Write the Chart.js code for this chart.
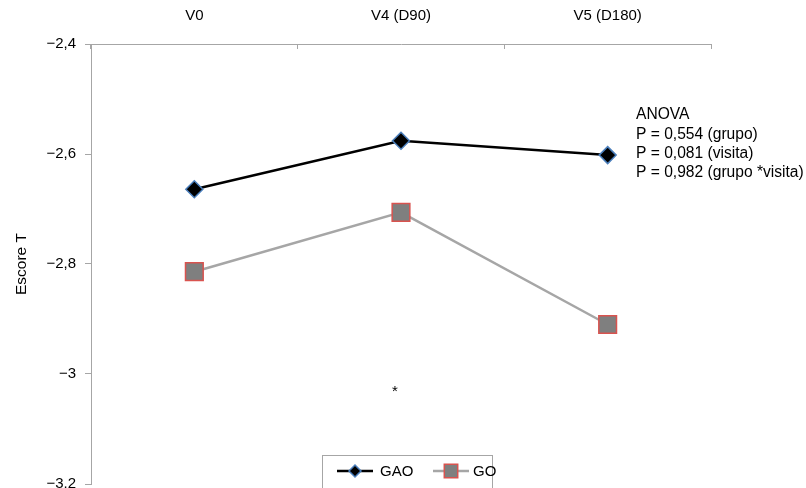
<!DOCTYPE html>
<html>
<head>
<meta charset="utf-8">
<script src="https://cdn.jsdelivr.net/npm/chart.js@4/dist/chart.umd.min.js"></script>
<style>
  html, body { margin: 0; padding: 0; background: #fff; overflow: hidden; }
  #wrap { width: 806px; height: 498px; position: relative; }
</style>
</head>
<body>
<div id="wrap"><canvas id="grafico"></canvas></div>
<script>
// datos
const categorias = ["V0", "V4 (D90)", "V5 (D180)"];
const gao = [-2.664, -2.576, -2.602];
const go = [-2.814, -2.706, -2.910];
const yTicks = [-2.4, -2.6, -2.8, -3, -3.2];
const yTickLabels = ["\u22122,4", "\u22122,6", "\u22122,8", "\u22123", "\u22123.2"];
const anova = ["ANOVA", "P = 0,554 (grupo)", "P = 0,081 (visita)", "P = 0,982 (grupo *visita)"];
const nota = "*";

const FONT = "'Liberation Sans', Arial, sans-serif";
Chart.defaults.font.family = FONT;
Chart.defaults.color = "#000";

// leyenda, texto ANOVA y asterisco (se dibujan encima)
const extras = {
  id: "extras",
  afterDraw(chart) {
    const ctx = chart.ctx;
    const ds = chart.data.datasets;
    ctx.save();
    // texto ANOVA
    ctx.font = "15.6px " + FONT;
    ctx.fillStyle = "#000";
    ctx.textAlign = "left";
    ctx.textBaseline = "middle";
    anova.forEach((t, i) => ctx.fillText(t, 636, 115 + i * 19.2));
    // asterisco
    ctx.font = "15px " + FONT;
    ctx.textAlign = "center";
    ctx.fillText(nota, 395, 392);

    // leyenda
    const bx = 322.5, by = 455.5, bw = 170, bh = 45;
    ctx.fillStyle = "#fff";
    ctx.fillRect(bx, by, bw, bh);
    ctx.strokeStyle = "#a6a6a6";
    ctx.lineWidth = 1;
    ctx.strokeRect(bx, by, bw, bh);
    const ly = 471;
    const items = [
      { ds: ds[0], x0: 337, x1: 373, tx: 380 },
      { ds: ds[1], x0: 433, x1: 469, tx: 473 }
    ];
    items.forEach(it => {
      ctx.strokeStyle = it.ds.borderColor;
      ctx.lineWidth = 2.5;
      ctx.beginPath();
      ctx.moveTo(it.x0, ly);
      ctx.lineTo(it.x1, ly);
      ctx.stroke();
      const cx = (it.x0 + it.x1) / 2;
      ctx.fillStyle = it.ds.pointBackgroundColor;
      ctx.strokeStyle = it.ds.pointBorderColor;
      ctx.lineWidth = it.ds.pointBorderWidth;
      Chart.helpers.drawPoint(ctx, {
        pointStyle: it.ds.pointStyle,
        rotation: 0,
        radius: it.ds.pointStyle === "rect" ? 9.5 : 6,
        borderWidth: it.ds.pointBorderWidth
      }, cx, ly);
      ctx.fillStyle = "#000";
      ctx.textAlign = "left";
      ctx.font = "15px " + FONT;
      ctx.fillText(it.ds.label, it.tx, ly + 0.5);
    });
    ctx.restore();
  }
};

new Chart(document.getElementById("grafico"), {
  type: "line",
  data: {
    labels: categorias,
    datasets: [
      {
        label: "GAO",
        data: gao,
        borderColor: "#000",
        borderWidth: 2.5,
        pointStyle: "rectRot",
        pointRadius: 8.5,
        pointBackgroundColor: "#000",
        pointBorderColor: "#4a7ebb",
        pointBorderWidth: 1.5,
        tension: 0
      },
      {
        label: "GO",
        data: go,
        borderColor: "#a6a6a6",
        borderWidth: 2.5,
        pointStyle: "rect",
        pointRadius: 12.5,
        pointBackgroundColor: "#7f7f7f",
        pointBorderColor: "#d9534f",
        pointBorderWidth: 1.5,
        tension: 0
      }
    ]
  },
  options: {
    responsive: true,
    maintainAspectRatio: false,
    devicePixelRatio: 1,
    animation: false,
    layout: { padding: { left: 0, right: 95, top: 0, bottom: 5 } },
    plugins: { legend: { display: false }, tooltip: { enabled: false } },
    scales: {
      x: {
        type: "category",
        position: "top",
        offset: true,
        grid: { offset: true, drawOnChartArea: false, color: "#a6a6a6", tickLength: -5 },
        border: { color: "#a6a6a6", width: 1 },
        ticks: { font: { size: 15 }, color: "#000", padding: 24 },
        afterFit(scale) { scale.height = 44; }
      },
      y: {
        min: -3.2,
        max: -2.4,
        grid: { drawOnChartArea: false, color: "#a6a6a6", tickLength: 6 },
        border: { color: "#a6a6a6", width: 1 },
        afterBuildTicks(scale) { scale.ticks = yTicks.map(v => ({ value: v })); },
        ticks: {
          font: { size: 15 },
          color: "#000",
          padding: 9,
          callback(value, index) { return yTickLabels[yTicks.indexOf(value)]; }
        },
        title: { display: true, text: "Escore T", font: { size: 15.5 }, color: "#000", padding: { top: 12, bottom: 0 } },
        afterFit(scale) {
          scale.width = 91;
          scale.paddingTop = 0;
          scale.paddingBottom = 0;
        }
      }
    }
  },
  plugins: [extras]
});
</script>
</body>
</html>
